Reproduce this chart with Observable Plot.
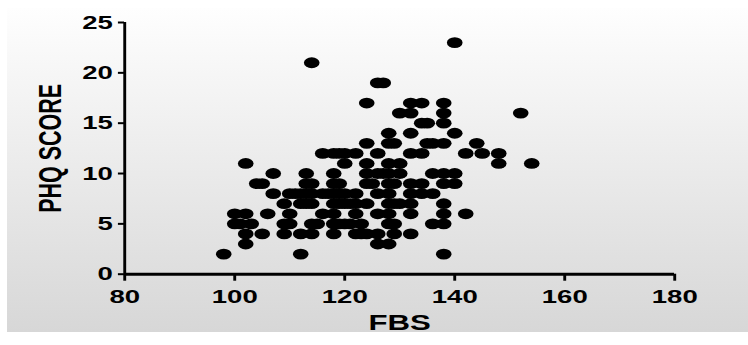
<!DOCTYPE html>
<html>
<head>
<meta charset="utf-8">
<script src="https://cdn.jsdelivr.net/npm/d3@7"></script>
<script src="https://cdn.jsdelivr.net/npm/@observablehq/plot@0.6"></script>
<style>
  html, body { margin: 0; padding: 0; background: #ffffff; }
  #wrap { position: relative; width: 748px; height: 345px; overflow: hidden; }
  #bg { position: absolute; left: 7px; top: 8px; width: 741px; height: 324px;
        background: linear-gradient(to bottom, #fefefe 0%, #d7d7d7 100%); }
  #chart { position: absolute; left: 0; top: 0; }
</style>
</head>
<body>
<div id="wrap"><div id="bg"></div><div id="chart"></div></div>
<script>
// FBS (x) and PHQ SCORE (y) values, grouped by PHQ score
const fbs = [
  98, 112, 138,
  102, 126, 128,
  102, 105, 109, 112, 114, 118, 122, 123, 124, 126, 129, 132,
  100, 101, 103, 109, 110, 114, 115, 118, 119, 120, 121, 123, 128, 129, 136, 138,
  100, 102, 106, 110, 116, 118, 122, 126, 128, 132, 138, 142,
  109, 112, 113, 114, 118, 119, 120, 121, 122, 124, 128, 129, 130, 132, 138,
  107, 110, 111, 112, 113, 114, 116, 117, 118, 119, 120, 122, 126, 128, 132, 134, 136,
  104, 105, 113, 114, 118, 119, 124, 125, 128, 129, 132, 134, 138, 140,
  107, 113, 118, 124, 126, 127, 128, 130, 136, 138, 140,
  102, 120, 124, 128, 130, 148, 154,
  116, 118, 119, 120, 122, 126, 132, 134, 142, 145, 148,
  124, 128, 129, 135, 136, 138, 144,
  128, 132, 140,
  134, 135, 138,
  130, 132, 138, 152,
  124, 132, 134, 138,
  126, 127,
  114,
  140
];
const phq = [
  2, 2, 2,
  3, 3, 3,
  4, 4, 4, 4, 4, 4, 4, 4, 4, 4, 4, 4,
  5, 5, 5, 5, 5, 5, 5, 5, 5, 5, 5, 5, 5, 5, 5, 5,
  6, 6, 6, 6, 6, 6, 6, 6, 6, 6, 6, 6,
  7, 7, 7, 7, 7, 7, 7, 7, 7, 7, 7, 7, 7, 7, 7,
  8, 8, 8, 8, 8, 8, 8, 8, 8, 8, 8, 8, 8, 8, 8, 8, 8,
  9, 9, 9, 9, 9, 9, 9, 9, 9, 9, 9, 9, 9, 9,
  10, 10, 10, 10, 10, 10, 10, 10, 10, 10, 10,
  11, 11, 11, 11, 11, 11, 11,
  12, 12, 12, 12, 12, 12, 12, 12, 12, 12, 12,
  13, 13, 13, 13, 13, 13, 13,
  14, 14, 14,
  15, 15, 15,
  16, 16, 16, 16,
  17, 17, 17, 17,
  19, 19,
  21,
  23
];
const xTicks = [80, 100, 120, 140, 160, 180];
const yTicks = [0, 5, 10, 15, 20, 25];
const xTitle = "FBS";
const yTitle = "PHQ SCORE";

const data = fbs.map((f, i) => ({fbs: f, phq: phq[i]}));

// The reference is horizontally stretched; draw at a narrower width and stretch.
const W = 748, H = 345, S = 1.45;
const w = W / S;

const chart = Plot.plot({
  width: w,
  height: H,
  marginLeft: 124 / S,
  marginRight: w - 674 / S,
  marginTop: 22,
  marginBottom: H - 273.7,
  x: {domain: [80, 180], label: null},
  y: {domain: [0, 25], label: null},
  style: {background: "transparent", fontFamily: "'Liberation Sans', Arial, sans-serif", color: "#000", overflow: "visible"},
  marks: [
    Plot.dot(data, {x: "fbs", y: "phq", r: 5.4, fill: "#000", stroke: "none"}),
    Plot.ruleX([80], {y1: 0, y2: 25, stroke: "#000", strokeWidth: 2}),
    Plot.ruleY([0], {x1: 80, x2: 180, stroke: "#000", strokeWidth: 3}),
    Plot.axisX({ticks: xTicks, tickSize: 7, tickPadding: 8, strokeWidth: 2, stroke: "#000", fill: "#000",
                fontSize: 19, fontWeight: "bold", label: null}),
    Plot.axisY({ticks: yTicks, tickSize: 4.2, tickPadding: 4, strokeWidth: 2, stroke: "#000", fill: "#000",
                fontSize: 19, fontWeight: "bold", label: null}),
    Plot.text([xTitle], {frameAnchor: "bottom", lineAnchor: "bottom", dy: 56, fontSize: 21.5, fontWeight: "bold", fill: "#000"}),
    Plot.text([yTitle], {frameAnchor: "left", textAnchor: "middle", rotate: -90, dx: 50 / S - 124 / S, fontSize: 21.5, fontWeight: "bold", fill: "#000"})
  ]
});

chart.setAttribute("width", W);
chart.setAttribute("height", H);
chart.setAttribute("preserveAspectRatio", "none");
chart.style.width = W + "px";
chart.style.height = H + "px";
chart.style.maxWidth = "none";
document.getElementById("chart").appendChild(chart);
</script>
</body>
</html>
